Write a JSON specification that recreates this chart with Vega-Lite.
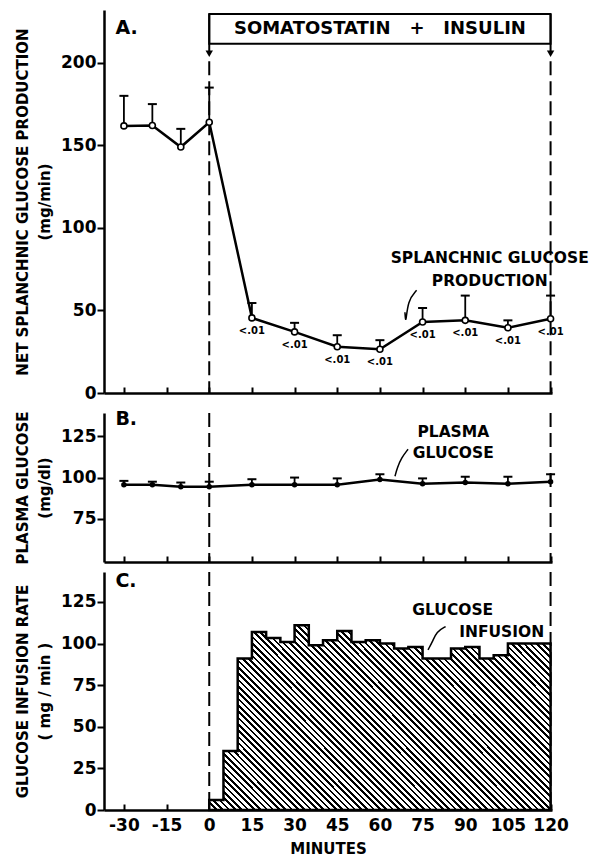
{
  "$schema": "https://vega.github.io/schema/vega-lite/v6.json",
  "background": "white",
  "padding": {"left": 15, "top": 10, "right": 5, "bottom": 0},
  "config": {
    "view": {"stroke": null},
    "font": "DejaVu Sans",
    "axis": {
      "grid": false,
      "domainColor": "black",
      "domainWidth": 2.5,
      "tickColor": "black",
      "tickWidth": 2,
      "labelColor": "black",
      "titleColor": "black",
      "labelFont": "DejaVu Sans",
      "labelFontWeight": "bold",
      "labelFontSize": 17,
      "titleFont": "DejaVu Sans",
      "titleFontWeight": "bold",
      "titleFontSize": 15,
      "titleLineHeight": 22,
      "minExtent": 0
    }
  },
  "datasets": {
    "splanchnic": [
      {"minute": -30, "value": 161.8, "upper": 180},
      {"minute": -20, "value": 162, "upper": 175},
      {"minute": -10, "value": 149, "upper": 160},
      {"minute": 0, "value": 164, "upper": 185},
      {"minute": 15, "value": 45.5, "upper": 54.5, "sig": "<.01"},
      {"minute": 30, "value": 37, "upper": 42.5, "sig": "<.01"},
      {"minute": 45, "value": 28, "upper": 35, "sig": "<.01"},
      {"minute": 60, "value": 26.5, "upper": 32, "sig": "<.01"},
      {"minute": 75, "value": 43, "upper": 51.5, "sig": "<.01"},
      {"minute": 90, "value": 44, "upper": 59, "sig": "<.01"},
      {"minute": 105, "value": 39.5, "upper": 44, "sig": "<.01"},
      {"minute": 120, "value": 45, "upper": 59, "sig": "<.01"}
    ],
    "plasma": [
      {"minute": -30, "value": 95.7, "upper": 98},
      {"minute": -20, "value": 95.7, "upper": 97.5},
      {"minute": -10, "value": 94.5, "upper": 97},
      {"minute": 0, "value": 94.5, "upper": 97.5},
      {"minute": 15, "value": 95.7, "upper": 99},
      {"minute": 30, "value": 95.7, "upper": 100},
      {"minute": 45, "value": 95.7, "upper": 99.5},
      {"minute": 60, "value": 98.8, "upper": 102},
      {"minute": 75, "value": 96.3, "upper": 99.5},
      {"minute": 90, "value": 97, "upper": 100.5},
      {"minute": 105, "value": 96.3, "upper": 100.5},
      {"minute": 120, "value": 97.5, "upper": 102}
    ],
    "infusion": [
      {"minute": 0, "rate": 6},
      {"minute": 5, "rate": 35.5},
      {"minute": 10, "rate": 91},
      {"minute": 15, "rate": 107},
      {"minute": 20, "rate": 103.4},
      {"minute": 25, "rate": 101},
      {"minute": 30, "rate": 111},
      {"minute": 35, "rate": 99},
      {"minute": 40, "rate": 102},
      {"minute": 45, "rate": 107.5},
      {"minute": 50, "rate": 101},
      {"minute": 55, "rate": 102},
      {"minute": 60, "rate": 100},
      {"minute": 65, "rate": 97},
      {"minute": 70, "rate": 98},
      {"minute": 75, "rate": 91},
      {"minute": 80, "rate": 91},
      {"minute": 85, "rate": 97},
      {"minute": 90, "rate": 98},
      {"minute": 95, "rate": 91},
      {"minute": 100, "rate": 93},
      {"minute": 105, "rate": 100},
      {"minute": 110, "rate": 100},
      {"minute": 115, "rate": 100},
      {"minute": 120, "rate": 100}
    ],
    "markers": [{"minute": 0}, {"minute": 120}],
    "one": [{}],
    "leaderA": [
      {"minute": 72.9, "value": 62.2},
      {"minute": 69.8, "value": 56.2},
      {"minute": 68.8, "value": 48.9},
      {"minute": 69.1, "value": 41.1}
    ],
    "leaderB": [
      {"minute": 69.9, "value": 117.1},
      {"minute": 67.6, "value": 112.0},
      {"minute": 66.1, "value": 105.9},
      {"minute": 65.3, "value": 100.8}
    ],
    "leaderC": [
      {"minute": 83.1, "rate": 110.2},
      {"minute": 79.9, "rate": 107.2},
      {"minute": 78.5, "rate": 101.1},
      {"minute": 76.9, "rate": 96.2}
    ]
  },
  "spacing": 8,
  "vconcat": [
    {
      "width": 448,
      "height": 383,
      "layer": [
        {
          "data": {"name": "splanchnic"},
          "mark": {"type": "line", "color": "black", "strokeWidth": 2.5},
          "encoding": {
            "x": {"field": "minute", "type": "quantitative",
              "scale": {"domain": [-37, 120.5], "nice": false, "zero": false},
              "axis": {"values": [-30, -15, 0, 15, 30, 45, 60, 75, 90, 105, 120], "labels": false, "tickSize": -6, "title": null}},
            "y": {"field": "value", "type": "quantitative",
              "scale": {"domain": [0, 232], "nice": false, "zero": false},
              "axis": {"values": [0, 50, 100, 150, 200], "tickSize": 7, "labelPadding": 1, "titlePadding": 8,
                "title": ["NET SPLANCHNIC GLUCOSE PRODUCTION", "(mg/min)"]}}
          }
        },
        {
          "data": {"name": "markers"},
          "mark": {"type": "rule", "color": "black", "strokeWidth": 2, "strokeDash": [14, 6]},
          "encoding": {
            "x": {"field": "minute", "type": "quantitative"},
            "y": {"datum": 201, "type": "quantitative"},
            "y2": {"datum": 0}
          }
        },
        {
          "data": {"name": "markers"},
          "mark": {"type": "rule", "color": "black", "strokeWidth": 2},
          "encoding": {
            "x": {"field": "minute", "type": "quantitative"},
            "y": {"datum": 229.6, "type": "quantitative"},
            "y2": {"datum": 207}
          }
        },
        {
          "data": {"name": "markers"},
          "mark": {"type": "point", "shape": "triangle-down", "filled": true, "color": "black", "size": 55, "opacity": 1},
          "encoding": {
            "x": {"field": "minute", "type": "quantitative"},
            "y": {"datum": 205.5, "type": "quantitative"}
          }
        },
        {
          "data": {"name": "one"},
          "mark": {"type": "rect", "fill": "white", "fillOpacity": 0, "stroke": "black", "strokeWidth": 2},
          "encoding": {
            "x": {"datum": 0, "type": "quantitative"},
            "x2": {"datum": 120},
            "y": {"datum": 211.5, "type": "quantitative"},
            "y2": {"datum": 229.6}
          }
        },
        {
          "data": {"name": "one"},
          "mark": {"type": "text", "text": "SOMATOSTATIN\u00a0\u00a0\u00a0+\u00a0\u00a0\u00a0INSULIN", "fontSize": 18, "fontWeight": "bold", "align": "center", "baseline": "middle", "color": "black"},
          "encoding": {
            "x": {"datum": 60, "type": "quantitative"},
            "y": {"datum": 220.5, "type": "quantitative"}
          }
        },
        {
          "data": {"name": "one"},
          "mark": {"type": "text", "text": "A.", "fontSize": 19, "fontWeight": "bold", "align": "left", "baseline": "middle", "color": "black"},
          "encoding": {
            "x": {"datum": -33, "type": "quantitative"},
            "y": {"datum": 221, "type": "quantitative"}
          }
        },
        {
          "data": {"name": "splanchnic"},
          "mark": {"type": "rule", "color": "black", "strokeWidth": 1.8},
          "encoding": {
            "x": {"field": "minute", "type": "quantitative"},
            "y": {"field": "value", "type": "quantitative"},
            "y2": {"field": "upper"}
          }
        },
        {
          "data": {"name": "splanchnic"},
          "mark": {"type": "tick", "orient": "horizontal", "color": "black", "size": 9, "thickness": 2, "opacity": 1},
          "encoding": {
            "x": {"field": "minute", "type": "quantitative"},
            "y": {"field": "upper", "type": "quantitative"}
          }
        },
        {
          "data": {"name": "splanchnic"},
          "mark": {"type": "circle", "fill": "white", "stroke": "black", "strokeWidth": 1.6, "size": 36, "opacity": 1},
          "encoding": {
            "x": {"field": "minute", "type": "quantitative"},
            "y": {"field": "value", "type": "quantitative"}
          }
        },
        {
          "data": {"name": "splanchnic"},
          "transform": [{"filter": "datum.sig != null"}],
          "mark": {"type": "text", "fontSize": 10, "fontWeight": "bold", "align": "center", "baseline": "middle", "dy": 13, "color": "black"},
          "encoding": {
            "x": {"field": "minute", "type": "quantitative"},
            "y": {"field": "value", "type": "quantitative"},
            "text": {"field": "sig"}
          }
        },
        {
          "data": {"name": "one"},
          "mark": {"type": "text", "text": ["SPLANCHNIC GLUCOSE", "PRODUCTION"], "lineHeight": 23, "fontSize": 15.5, "fontWeight": "bold", "align": "center", "baseline": "top", "color": "black"},
          "encoding": {
            "x": {"datum": 98.6, "type": "quantitative"},
            "y": {"datum": 86, "type": "quantitative"}
          }
        },
        {
          "data": {"name": "leaderA"},
          "mark": {"type": "line", "color": "black", "strokeWidth": 1.5, "interpolate": "basis"},
          "encoding": {
            "x": {"field": "minute", "type": "quantitative"},
            "y": {"field": "value", "type": "quantitative"}
          }
        }
      ]
    },
    {
      "spacing": 6,
      "vconcat": [
        {
          "width": 448,
          "height": 149,
          "layer": [
            {
              "data": {"name": "plasma"},
              "mark": {"type": "line", "color": "black", "strokeWidth": 2.5},
              "encoding": {
                "x": {"field": "minute", "type": "quantitative",
                  "scale": {"domain": [-37, 120.5], "nice": false, "zero": false},
                  "axis": {"values": [-30, -15, 0, 15, 30, 45, 60, 75, 90, 105, 120], "labels": false, "tickSize": -6, "title": null}},
                "y": {"field": "value", "type": "quantitative",
                  "scale": {"domain": [49, 139], "nice": false, "zero": false},
                  "axis": {"values": [75, 100, 125], "tickSize": 7, "labelPadding": 1, "titlePadding": 8,
                    "title": ["PLASMA GLUCOSE", "(mg/dl)"]}}
              }
            },
            {
              "data": {"name": "markers"},
              "mark": {"type": "rule", "color": "black", "strokeWidth": 2, "strokeDash": [14, 6]},
              "encoding": {
                "x": {"field": "minute", "type": "quantitative"}
              }
            },
            {
              "data": {"name": "plasma"},
              "mark": {"type": "rule", "color": "black", "strokeWidth": 1.8},
              "encoding": {
                "x": {"field": "minute", "type": "quantitative"},
                "y": {"field": "value", "type": "quantitative"},
                "y2": {"field": "upper"}
              }
            },
            {
              "data": {"name": "plasma"},
              "mark": {"type": "tick", "orient": "horizontal", "color": "black", "size": 9, "thickness": 2, "opacity": 1},
              "encoding": {
                "x": {"field": "minute", "type": "quantitative"},
                "y": {"field": "upper", "type": "quantitative"}
              }
            },
            {
              "data": {"name": "plasma"},
              "mark": {"type": "circle", "color": "black", "size": 30, "opacity": 1},
              "encoding": {
                "x": {"field": "minute", "type": "quantitative"},
                "y": {"field": "value", "type": "quantitative"}
              }
            },
            {
              "data": {"name": "one"},
              "mark": {"type": "text", "text": "B.", "fontSize": 19, "fontWeight": "bold", "align": "left", "baseline": "middle", "color": "black"},
              "encoding": {
                "x": {"datum": -33, "type": "quantitative"},
                "y": {"datum": 135.5, "type": "quantitative"}
              }
            },
            {
              "data": {"name": "one"},
              "mark": {"type": "text", "text": ["PLASMA", "GLUCOSE"], "lineHeight": 21, "fontSize": 15.5, "fontWeight": "bold", "align": "center", "baseline": "top", "color": "black"},
              "encoding": {
                "x": {"datum": 85.8, "type": "quantitative"},
                "y": {"datum": 131.7, "type": "quantitative"}
              }
            },
            {
              "data": {"name": "leaderB"},
              "mark": {"type": "line", "color": "black", "strokeWidth": 1.5, "interpolate": "basis"},
              "encoding": {
                "x": {"field": "minute", "type": "quantitative"},
                "y": {"field": "value", "type": "quantitative"}
              }
            }
          ]
        },
        {
          "width": 448,
          "height": 238,
          "layer": [
            {
              "data": {"name": "markers"},
              "mark": {"type": "rule", "color": "black", "strokeWidth": 2, "strokeDash": [14, 6]},
              "encoding": {
                "x": {"field": "minute", "type": "quantitative",
                  "scale": {"domain": [-37, 120.5], "nice": false, "zero": false},
                  "axis": {"values": [-30, -15, 0, 15, 30, 45, 60, 75, 90, 105, 120], "tickSize": -6, "labelPadding": 13,
                    "labelExpr": "'' + datum.value", "title": "MINUTES", "titlePadding": 8}}
              }
            },
            {
              "data": {"name": "infusion"},
              "mark": {
                "type": "area",
                "interpolate": "step-after",
                "stroke": "black",
                "strokeWidth": 2.5,
                "opacity": 1,
                "fill": {
                  "gradient": "linear",
                  "x1": 0, "y1": 1, "x2": 1.1923, "y2": 0.3562,
                  "stops": [
                    {"offset":0,"color":"#000"},{"offset":0.005,"color":"#000"},{"offset":0.005,"color":"#fff"},{"offset":0.012,"color":"#fff"},
                    {"offset":0.012,"color":"#000"},{"offset":0.017,"color":"#000"},{"offset":0.017,"color":"#fff"},{"offset":0.024,"color":"#fff"},
                    {"offset":0.024,"color":"#000"},{"offset":0.029,"color":"#000"},{"offset":0.029,"color":"#fff"},{"offset":0.036,"color":"#fff"},
                    {"offset":0.036,"color":"#000"},{"offset":0.041,"color":"#000"},{"offset":0.041,"color":"#fff"},{"offset":0.048,"color":"#fff"},
                    {"offset":0.048,"color":"#000"},{"offset":0.053,"color":"#000"},{"offset":0.053,"color":"#fff"},{"offset":0.06,"color":"#fff"},
                    {"offset":0.06,"color":"#000"},{"offset":0.065,"color":"#000"},{"offset":0.065,"color":"#fff"},{"offset":0.072,"color":"#fff"},
                    {"offset":0.072,"color":"#000"},{"offset":0.077,"color":"#000"},{"offset":0.077,"color":"#fff"},{"offset":0.084,"color":"#fff"},
                    {"offset":0.084,"color":"#000"},{"offset":0.089,"color":"#000"},{"offset":0.089,"color":"#fff"},{"offset":0.096,"color":"#fff"},
                    {"offset":0.096,"color":"#000"},{"offset":0.101,"color":"#000"},{"offset":0.101,"color":"#fff"},{"offset":0.108,"color":"#fff"},
                    {"offset":0.108,"color":"#000"},{"offset":0.113,"color":"#000"},{"offset":0.113,"color":"#fff"},{"offset":0.12,"color":"#fff"},
                    {"offset":0.12,"color":"#000"},{"offset":0.125,"color":"#000"},{"offset":0.125,"color":"#fff"},{"offset":0.132,"color":"#fff"},
                    {"offset":0.132,"color":"#000"},{"offset":0.137,"color":"#000"},{"offset":0.137,"color":"#fff"},{"offset":0.144,"color":"#fff"},
                    {"offset":0.144,"color":"#000"},{"offset":0.149,"color":"#000"},{"offset":0.149,"color":"#fff"},{"offset":0.156,"color":"#fff"},
                    {"offset":0.156,"color":"#000"},{"offset":0.161,"color":"#000"},{"offset":0.161,"color":"#fff"},{"offset":0.168,"color":"#fff"},
                    {"offset":0.168,"color":"#000"},{"offset":0.173,"color":"#000"},{"offset":0.173,"color":"#fff"},{"offset":0.18,"color":"#fff"},
                    {"offset":0.18,"color":"#000"},{"offset":0.185,"color":"#000"},{"offset":0.185,"color":"#fff"},{"offset":0.192,"color":"#fff"},
                    {"offset":0.192,"color":"#000"},{"offset":0.197,"color":"#000"},{"offset":0.197,"color":"#fff"},{"offset":0.204,"color":"#fff"},
                    {"offset":0.204,"color":"#000"},{"offset":0.209,"color":"#000"},{"offset":0.209,"color":"#fff"},{"offset":0.216,"color":"#fff"},
                    {"offset":0.216,"color":"#000"},{"offset":0.221,"color":"#000"},{"offset":0.221,"color":"#fff"},{"offset":0.228,"color":"#fff"},
                    {"offset":0.228,"color":"#000"},{"offset":0.233,"color":"#000"},{"offset":0.233,"color":"#fff"},{"offset":0.24,"color":"#fff"},
                    {"offset":0.24,"color":"#000"},{"offset":0.245,"color":"#000"},{"offset":0.245,"color":"#fff"},{"offset":0.252,"color":"#fff"},
                    {"offset":0.252,"color":"#000"},{"offset":0.257,"color":"#000"},{"offset":0.257,"color":"#fff"},{"offset":0.264,"color":"#fff"},
                    {"offset":0.264,"color":"#000"},{"offset":0.269,"color":"#000"},{"offset":0.269,"color":"#fff"},{"offset":0.276,"color":"#fff"},
                    {"offset":0.276,"color":"#000"},{"offset":0.281,"color":"#000"},{"offset":0.281,"color":"#fff"},{"offset":0.288,"color":"#fff"},
                    {"offset":0.288,"color":"#000"},{"offset":0.293,"color":"#000"},{"offset":0.293,"color":"#fff"},{"offset":0.3,"color":"#fff"},
                    {"offset":0.3,"color":"#000"},{"offset":0.305,"color":"#000"},{"offset":0.305,"color":"#fff"},{"offset":0.312,"color":"#fff"},
                    {"offset":0.312,"color":"#000"},{"offset":0.317,"color":"#000"},{"offset":0.317,"color":"#fff"},{"offset":0.324,"color":"#fff"},
                    {"offset":0.324,"color":"#000"},{"offset":0.329,"color":"#000"},{"offset":0.329,"color":"#fff"},{"offset":0.336,"color":"#fff"},
                    {"offset":0.336,"color":"#000"},{"offset":0.341,"color":"#000"},{"offset":0.341,"color":"#fff"},{"offset":0.348,"color":"#fff"},
                    {"offset":0.348,"color":"#000"},{"offset":0.353,"color":"#000"},{"offset":0.353,"color":"#fff"},{"offset":0.36,"color":"#fff"},
                    {"offset":0.36,"color":"#000"},{"offset":0.365,"color":"#000"},{"offset":0.365,"color":"#fff"},{"offset":0.372,"color":"#fff"},
                    {"offset":0.372,"color":"#000"},{"offset":0.377,"color":"#000"},{"offset":0.377,"color":"#fff"},{"offset":0.384,"color":"#fff"},
                    {"offset":0.384,"color":"#000"},{"offset":0.389,"color":"#000"},{"offset":0.389,"color":"#fff"},{"offset":0.396,"color":"#fff"},
                    {"offset":0.396,"color":"#000"},{"offset":0.401,"color":"#000"},{"offset":0.401,"color":"#fff"},{"offset":0.408,"color":"#fff"},
                    {"offset":0.408,"color":"#000"},{"offset":0.413,"color":"#000"},{"offset":0.413,"color":"#fff"},{"offset":0.42,"color":"#fff"},
                    {"offset":0.42,"color":"#000"},{"offset":0.425,"color":"#000"},{"offset":0.425,"color":"#fff"},{"offset":0.432,"color":"#fff"},
                    {"offset":0.432,"color":"#000"},{"offset":0.437,"color":"#000"},{"offset":0.437,"color":"#fff"},{"offset":0.444,"color":"#fff"},
                    {"offset":0.444,"color":"#000"},{"offset":0.449,"color":"#000"},{"offset":0.449,"color":"#fff"},{"offset":0.456,"color":"#fff"},
                    {"offset":0.456,"color":"#000"},{"offset":0.461,"color":"#000"},{"offset":0.461,"color":"#fff"},{"offset":0.468,"color":"#fff"},
                    {"offset":0.468,"color":"#000"},{"offset":0.473,"color":"#000"},{"offset":0.473,"color":"#fff"},{"offset":0.48,"color":"#fff"},
                    {"offset":0.48,"color":"#000"},{"offset":0.485,"color":"#000"},{"offset":0.485,"color":"#fff"},{"offset":0.492,"color":"#fff"},
                    {"offset":0.492,"color":"#000"},{"offset":0.497,"color":"#000"},{"offset":0.497,"color":"#fff"},{"offset":0.504,"color":"#fff"},
                    {"offset":0.504,"color":"#000"},{"offset":0.509,"color":"#000"},{"offset":0.509,"color":"#fff"},{"offset":0.516,"color":"#fff"},
                    {"offset":0.516,"color":"#000"},{"offset":0.521,"color":"#000"},{"offset":0.521,"color":"#fff"},{"offset":0.528,"color":"#fff"},
                    {"offset":0.528,"color":"#000"},{"offset":0.533,"color":"#000"},{"offset":0.533,"color":"#fff"},{"offset":0.54,"color":"#fff"},
                    {"offset":0.54,"color":"#000"},{"offset":0.545,"color":"#000"},{"offset":0.545,"color":"#fff"},{"offset":0.552,"color":"#fff"},
                    {"offset":0.552,"color":"#000"},{"offset":0.557,"color":"#000"},{"offset":0.557,"color":"#fff"},{"offset":0.564,"color":"#fff"},
                    {"offset":0.564,"color":"#000"},{"offset":0.569,"color":"#000"},{"offset":0.569,"color":"#fff"},{"offset":0.576,"color":"#fff"},
                    {"offset":0.576,"color":"#000"},{"offset":0.581,"color":"#000"},{"offset":0.581,"color":"#fff"},{"offset":0.588,"color":"#fff"},
                    {"offset":0.588,"color":"#000"},{"offset":0.593,"color":"#000"},{"offset":0.593,"color":"#fff"},{"offset":0.6,"color":"#fff"},
                    {"offset":0.6,"color":"#000"},{"offset":0.605,"color":"#000"},{"offset":0.605,"color":"#fff"},{"offset":0.612,"color":"#fff"},
                    {"offset":0.612,"color":"#000"},{"offset":0.617,"color":"#000"},{"offset":0.617,"color":"#fff"},{"offset":0.624,"color":"#fff"},
                    {"offset":0.624,"color":"#000"},{"offset":0.629,"color":"#000"},{"offset":0.629,"color":"#fff"},{"offset":0.636,"color":"#fff"},
                    {"offset":0.636,"color":"#000"},{"offset":0.641,"color":"#000"},{"offset":0.641,"color":"#fff"},{"offset":0.648,"color":"#fff"},
                    {"offset":0.648,"color":"#000"},{"offset":0.653,"color":"#000"},{"offset":0.653,"color":"#fff"},{"offset":0.66,"color":"#fff"},
                    {"offset":0.66,"color":"#000"},{"offset":0.665,"color":"#000"},{"offset":0.665,"color":"#fff"},{"offset":0.672,"color":"#fff"},
                    {"offset":0.672,"color":"#000"},{"offset":0.677,"color":"#000"},{"offset":0.677,"color":"#fff"},{"offset":0.684,"color":"#fff"},
                    {"offset":0.684,"color":"#000"},{"offset":0.689,"color":"#000"},{"offset":0.689,"color":"#fff"},{"offset":0.696,"color":"#fff"},
                    {"offset":0.696,"color":"#000"},{"offset":0.701,"color":"#000"},{"offset":0.701,"color":"#fff"},{"offset":0.708,"color":"#fff"},
                    {"offset":0.708,"color":"#000"},{"offset":0.713,"color":"#000"},{"offset":0.713,"color":"#fff"},{"offset":0.72,"color":"#fff"},
                    {"offset":0.72,"color":"#000"},{"offset":0.725,"color":"#000"},{"offset":0.725,"color":"#fff"},{"offset":0.732,"color":"#fff"},
                    {"offset":0.732,"color":"#000"},{"offset":0.737,"color":"#000"},{"offset":0.737,"color":"#fff"},{"offset":0.744,"color":"#fff"},
                    {"offset":0.744,"color":"#000"},{"offset":0.749,"color":"#000"},{"offset":0.749,"color":"#fff"},{"offset":0.756,"color":"#fff"},
                    {"offset":0.756,"color":"#000"},{"offset":0.761,"color":"#000"},{"offset":0.761,"color":"#fff"},{"offset":0.768,"color":"#fff"},
                    {"offset":0.768,"color":"#000"},{"offset":0.773,"color":"#000"},{"offset":0.773,"color":"#fff"},{"offset":0.78,"color":"#fff"},
                    {"offset":0.78,"color":"#000"},{"offset":0.785,"color":"#000"},{"offset":0.785,"color":"#fff"},{"offset":0.792,"color":"#fff"},
                    {"offset":0.792,"color":"#000"},{"offset":0.797,"color":"#000"},{"offset":0.797,"color":"#fff"},{"offset":0.804,"color":"#fff"},
                    {"offset":0.804,"color":"#000"},{"offset":0.809,"color":"#000"},{"offset":0.809,"color":"#fff"},{"offset":0.816,"color":"#fff"},
                    {"offset":0.816,"color":"#000"},{"offset":0.821,"color":"#000"},{"offset":0.821,"color":"#fff"},{"offset":0.828,"color":"#fff"},
                    {"offset":0.828,"color":"#000"},{"offset":0.833,"color":"#000"},{"offset":0.833,"color":"#fff"},{"offset":0.84,"color":"#fff"},
                    {"offset":0.84,"color":"#000"},{"offset":0.845,"color":"#000"},{"offset":0.845,"color":"#fff"},{"offset":0.852,"color":"#fff"},
                    {"offset":0.852,"color":"#000"},{"offset":0.857,"color":"#000"},{"offset":0.857,"color":"#fff"},{"offset":0.864,"color":"#fff"},
                    {"offset":0.864,"color":"#000"},{"offset":0.869,"color":"#000"},{"offset":0.869,"color":"#fff"},{"offset":0.876,"color":"#fff"},
                    {"offset":0.876,"color":"#000"},{"offset":0.881,"color":"#000"},{"offset":0.881,"color":"#fff"},{"offset":0.888,"color":"#fff"},
                    {"offset":0.888,"color":"#000"},{"offset":0.893,"color":"#000"},{"offset":0.893,"color":"#fff"},{"offset":0.9,"color":"#fff"},
                    {"offset":0.9,"color":"#000"},{"offset":0.905,"color":"#000"},{"offset":0.905,"color":"#fff"},{"offset":0.912,"color":"#fff"},
                    {"offset":0.912,"color":"#000"},{"offset":0.917,"color":"#000"},{"offset":0.917,"color":"#fff"},{"offset":0.924,"color":"#fff"},
                    {"offset":0.924,"color":"#000"},{"offset":0.929,"color":"#000"},{"offset":0.929,"color":"#fff"},{"offset":0.936,"color":"#fff"},
                    {"offset":0.936,"color":"#000"},{"offset":0.941,"color":"#000"},{"offset":0.941,"color":"#fff"},{"offset":0.948,"color":"#fff"},
                    {"offset":0.948,"color":"#000"},{"offset":0.953,"color":"#000"},{"offset":0.953,"color":"#fff"},{"offset":0.96,"color":"#fff"},
                    {"offset":0.96,"color":"#000"},{"offset":0.965,"color":"#000"},{"offset":0.965,"color":"#fff"},{"offset":0.972,"color":"#fff"},
                    {"offset":0.972,"color":"#000"},{"offset":0.977,"color":"#000"},{"offset":0.977,"color":"#fff"},{"offset":0.984,"color":"#fff"},
                    {"offset":0.984,"color":"#000"},{"offset":0.989,"color":"#000"},{"offset":0.989,"color":"#fff"},{"offset":0.996,"color":"#fff"},
                    {"offset":0.996,"color":"#000"},{"offset":1,"color":"#000"}
                  ]
                }
              },
              "encoding": {
                "x": {"field": "minute", "type": "quantitative"},
                "y": {"field": "rate", "type": "quantitative",
                  "scale": {"domain": [0, 143], "nice": false, "zero": false},
                  "axis": {"values": [0, 25, 50, 75, 100, 125], "tickSize": 7, "labelPadding": 1, "titlePadding": 8,
                    "title": ["GLUCOSE INFUSION RATE", "( mg / min )"]}}
              }
            },
            {
              "data": {"name": "one"},
              "mark": {"type": "text", "text": "C.", "fontSize": 19, "fontWeight": "bold", "align": "left", "baseline": "middle", "color": "black"},
              "encoding": {
                "x": {"datum": -33, "type": "quantitative"},
                "y": {"datum": 137.5, "type": "quantitative"}
              }
            },
            {
              "data": {"name": "one"},
              "mark": {"type": "text", "text": "GLUCOSE", "fontSize": 15.5, "fontWeight": "bold", "align": "center", "baseline": "middle", "color": "black"},
              "encoding": {
                "x": {"datum": 85.6, "type": "quantitative"},
                "y": {"datum": 120.2, "type": "quantitative"}
              }
            },
            {
              "data": {"name": "one"},
              "mark": {"type": "text", "text": "INFUSION", "fontSize": 15.5, "fontWeight": "bold", "align": "center", "baseline": "middle", "color": "black"},
              "encoding": {
                "x": {"datum": 102.8, "type": "quantitative"},
                "y": {"datum": 107, "type": "quantitative"}
              }
            },
            {
              "data": {"name": "leaderC"},
              "mark": {"type": "line", "color": "black", "strokeWidth": 1.5, "interpolate": "basis"},
              "encoding": {
                "x": {"field": "minute", "type": "quantitative"},
                "y": {"field": "rate", "type": "quantitative"}
              }
            }
          ]
        }
      ]
    }
  ]
}
